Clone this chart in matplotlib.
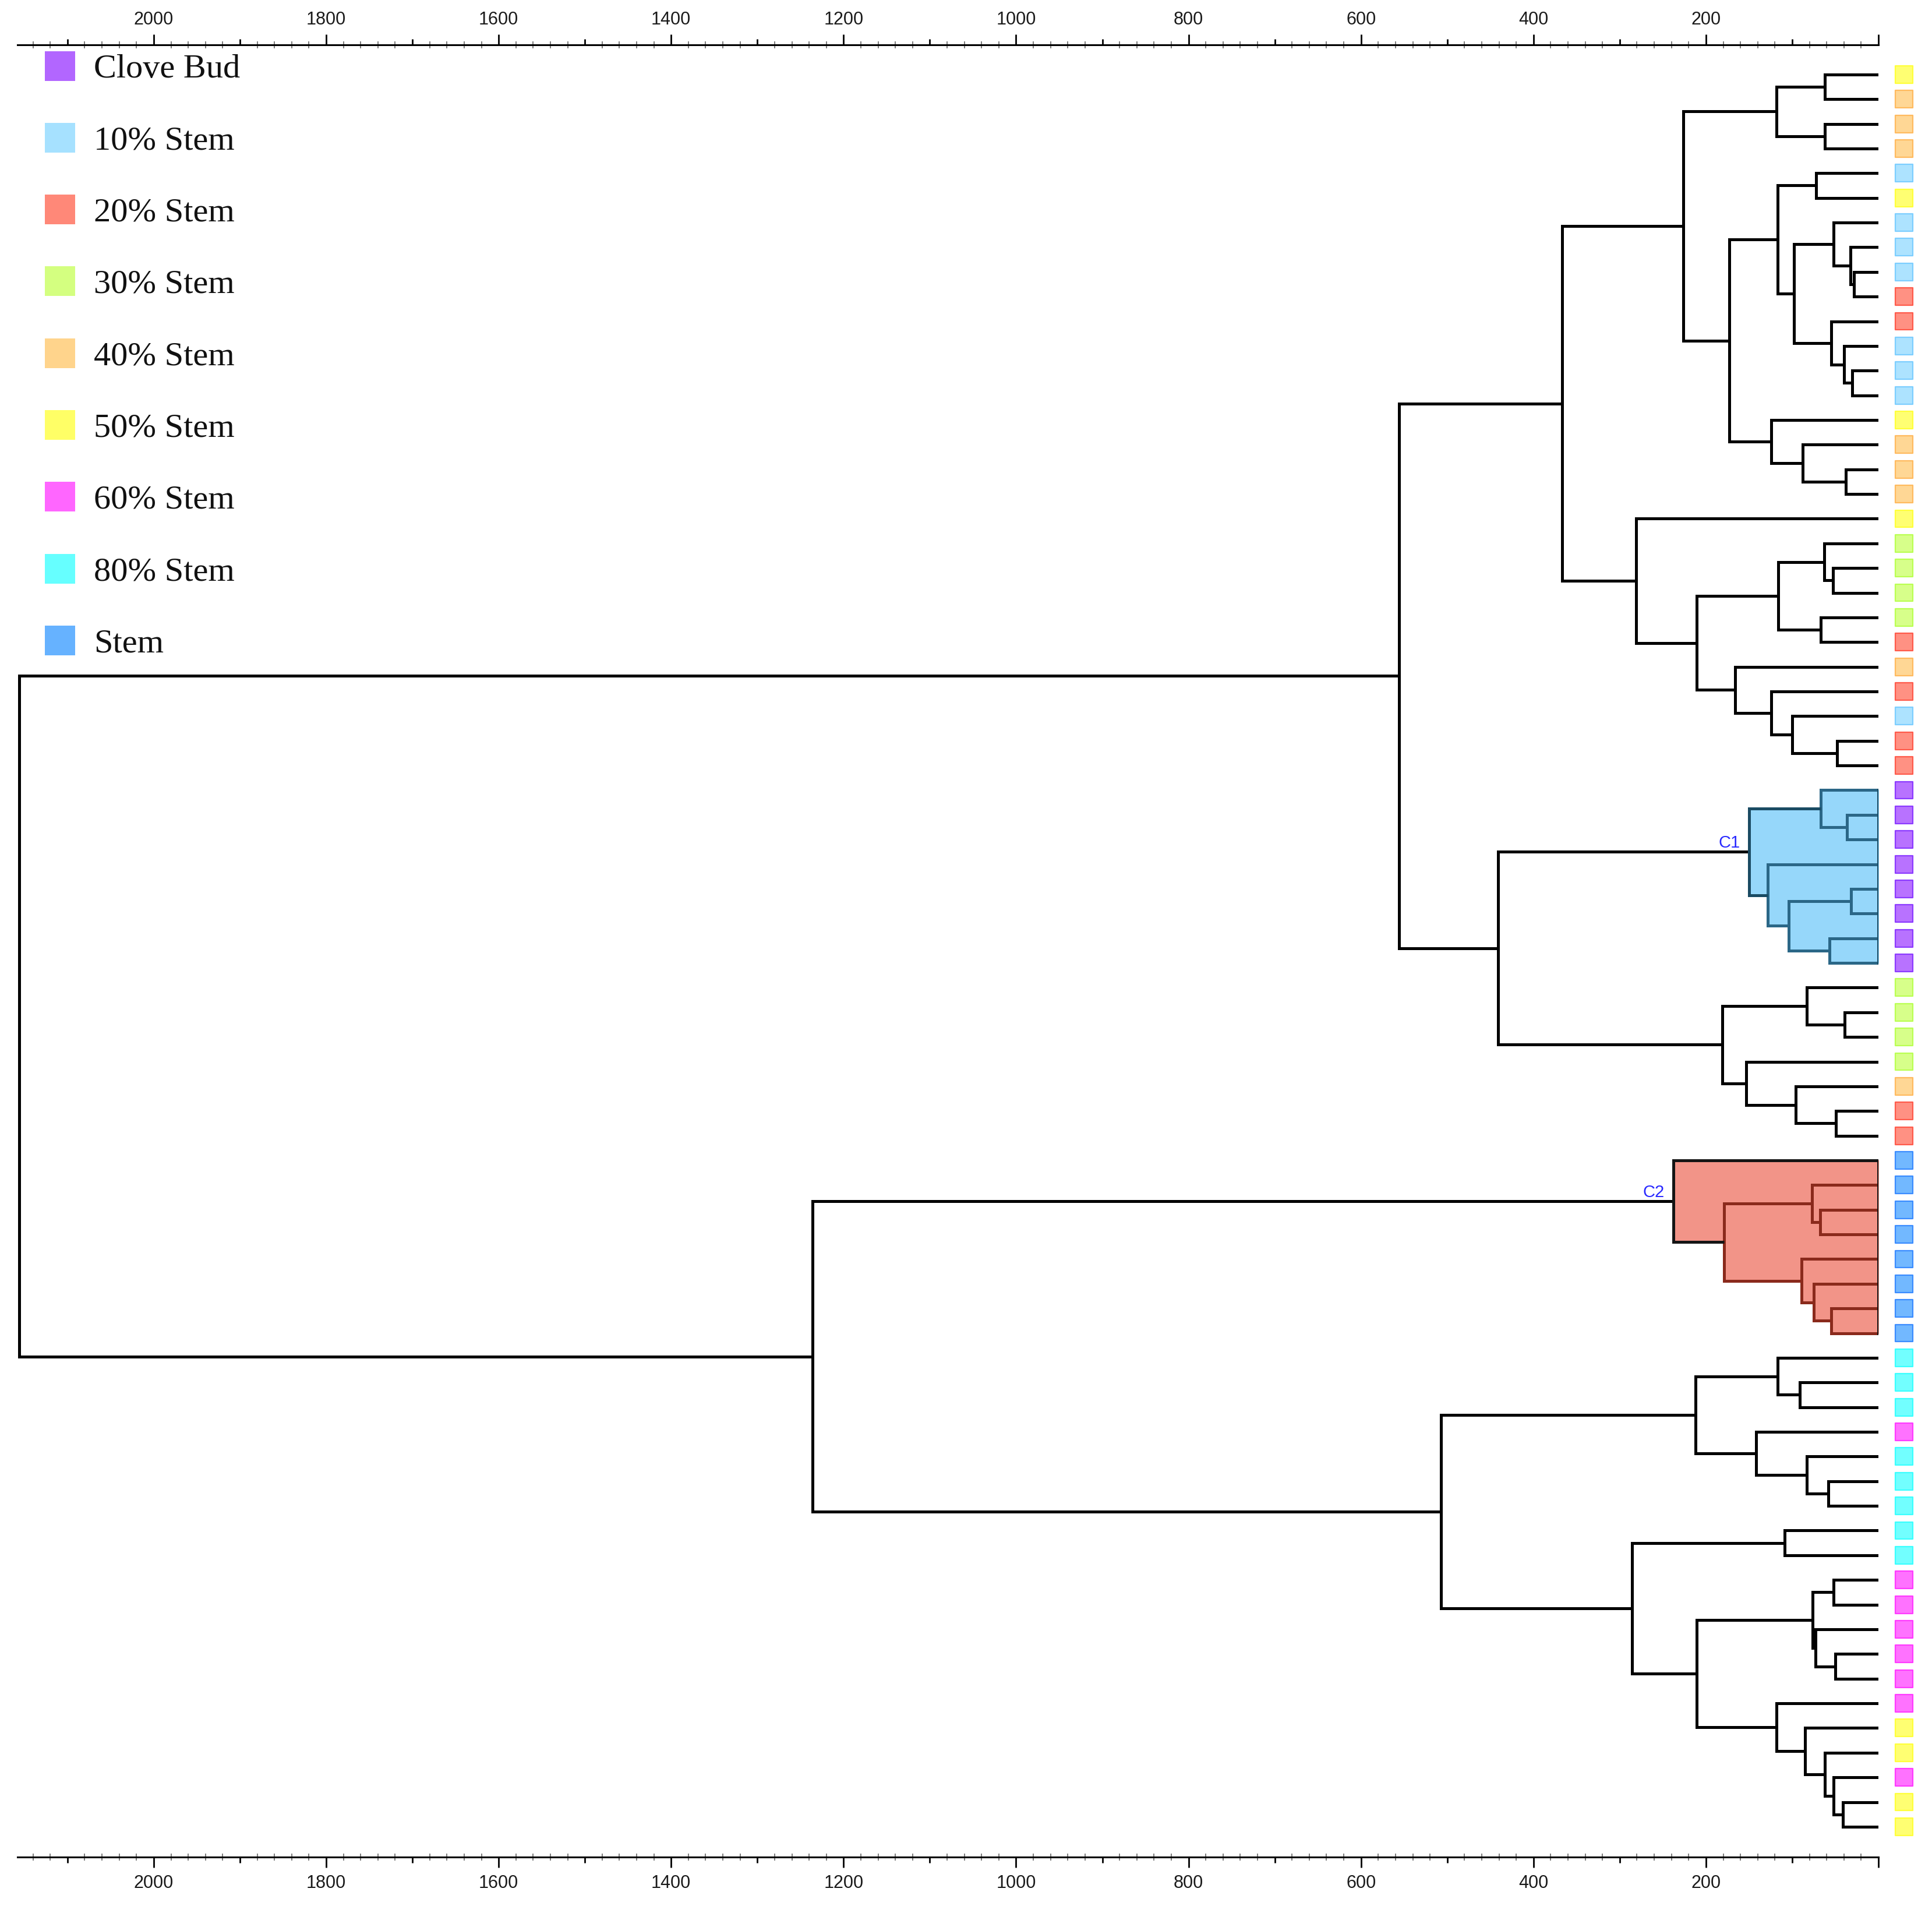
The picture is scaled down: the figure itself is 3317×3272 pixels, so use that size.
import numpy as np
import matplotlib
matplotlib.use('Agg')
import matplotlib.pyplot as plt
from matplotlib.ticker import FixedLocator, FuncFormatter
from matplotlib.colors import to_rgb

# ---------------- data ----------------
categories = ['Clove Bud', '10% Stem', '20% Stem', '30% Stem', '40% Stem',
              '50% Stem', '60% Stem', '80% Stem', 'Stem']
category_colors = ['#B266FF', '#A6E1FF', '#FF8878', '#D4FF80', '#FFD48C',
                   '#FFFF66', '#FF66FF', '#66FFFF', '#66B2FF']

leaf_classes = (
    ['50% Stem', '40% Stem', '40% Stem', '40% Stem', '10% Stem', '50% Stem',
     '10% Stem', '10% Stem', '10% Stem', '20% Stem', '20% Stem', '10% Stem',
     '10% Stem', '10% Stem', '50% Stem', '40% Stem', '40% Stem', '40% Stem',
     '50% Stem', '30% Stem', '30% Stem', '30% Stem', '30% Stem', '20% Stem',
     '40% Stem', '20% Stem', '10% Stem', '20% Stem', '20% Stem']
    + ['Clove Bud'] * 8
    + ['30% Stem'] * 4 + ['40% Stem', '20% Stem', '20% Stem']
    + ['Stem'] * 8
    + ['80% Stem'] * 3 + ['60% Stem'] + ['80% Stem'] * 5 + ['60% Stem'] * 6
    + ['50% Stem', '50% Stem', '60% Stem', '50% Stem', '50% Stem']
)

# linkage: node ids < 72 are leaves (top to bottom), 72 + k is merge k
merge_left = [0, 2, 72, 4, 8, 7, 6, 12, 11, 10, 78, 75, 16, 15, 14, 83, 74,
              20, 19, 22, 90, 27, 26, 25, 24, 92, 18, 88,
              30, 29, 33, 35, 102, 32, 101,
              38, 37, 42, 41, 40, 108, 106, 99,
              46, 45, 50, 49, 48, 116, 44,
              53, 52, 57, 56, 55, 123, 59, 61, 64, 63, 129, 70, 69, 68, 67, 66,
              132, 128, 127, 121, 114]
merge_right = [1, 3, 73, 5, 9, 76, 77, 13, 79, 80, 81, 82, 17, 84, 85, 86, 87,
               21, 89, 23, 91, 28, 93, 94, 95, 96, 97, 98,
               31, 100, 34, 36, 103, 104, 105,
               39, 107, 43, 109, 110, 111, 112, 113,
               47, 115, 51, 117, 118, 119, 120,
               54, 122, 58, 124, 125, 126, 60, 62, 65, 130, 131, 71, 133, 134,
               135, 136, 137, 138, 139, 140, 141]
merge_height = [62, 62, 118, 72, 28.5, 32.5, 52, 30.6, 40, 55, 98, 117, 37.5,
                88, 124, 173, 226,
                53, 63, 67, 116, 48, 100, 124, 166, 211, 281, 367,
                36.7, 67, 32, 56.5, 104, 128, 150,
                39, 83, 49, 96, 153, 181, 441, 556,
                67.6, 77, 55, 75, 89, 179, 238,
                91, 117, 58, 83, 142, 212, 109, 52, 50, 73, 76, 41, 52, 62, 85,
                118, 211, 286, 507, 1236, 2156]

highlight_names = ['C1', 'C2']
highlight_roots = [106, 121]
highlight_fill = ['#96D7FA', '#F29488']
highlight_inner = ['#2B6787', '#8A2A1C']
highlight_outer = ['#1A4B63', '#151515']

# ---------------- layout ----------------
W, H = 3317, 3273
fig = plt.figure(figsize=(W / 100, H / 100), dpi=100)
ax = fig.add_axes([30 / W, 1 - 3189 / H, (3225 - 30) / W, (3189 - 78) / H])

n = len(leaf_classes)
node_y = list(range(n))
node_h = [0.0] * n
for a, b, h in zip(merge_left, merge_right, merge_height):
    node_y.append((node_y[a] + node_y[b]) / 2.0)
    node_h.append(h)


def subtree_merges(node):
    if node < n:
        return []
    k = node - n
    return [k] + subtree_merges(merge_left[k]) + subtree_merges(merge_right[k])


def subtree_leaves(node):
    if node < n:
        return [node]
    k = node - n
    return subtree_leaves(merge_left[k]) + subtree_leaves(merge_right[k])


merge_color = ['black'] * len(merge_height)
LW = 3.6
for ci, root in enumerate(highlight_roots):
    ks = subtree_merges(root)
    for k in ks:
        a, b = merge_left[k], merge_right[k]
        ax.fill_betweenx([node_y[a], node_y[b]], 0, merge_height[k],
                         color=highlight_fill[ci], lw=1.0, zorder=2)
        merge_color[k] = highlight_inner[ci]
    merge_color[root - n] = highlight_outer[ci]
    leaves = subtree_leaves(root)
    ax.plot([0, 0], [min(leaves), max(leaves)], color=highlight_outer[ci],
            lw=LW, zorder=3.5, solid_capstyle='projecting')

for k, (a, b, h) in enumerate(zip(merge_left, merge_right, merge_height)):
    ax.plot([node_h[a], h, h, node_h[b]],
            [node_y[a], node_y[a], node_y[b], node_y[b]],
            color=merge_color[k], lw=LW, solid_joinstyle='miter',
            solid_capstyle='butt', zorder=3 if merge_color[k] == 'black' else 3.2)

# cluster labels
for ci, root in enumerate(highlight_roots):
    ax.annotate(highlight_names[ci], xy=(node_h[root], node_y[root]),
                xytext=(-11, 6), textcoords='offset points', ha='right',
                va='baseline', color='#2A2AFF', fontsize=21,
                family='Liberation Sans', zorder=5)

# leaf markers
cmap = dict(zip(categories, category_colors))
fills = [cmap[c] for c in leaf_classes]
edges = [tuple(np.array(to_rgb(c)) ** 1.8) for c in fills]
ax.scatter([-30] * n, list(range(n)), marker='s', s=21.5 ** 2, c=fills,
           edgecolors=edges, linewidths=1.6, alpha=0.92, clip_on=False, zorder=4)

# axes
ax.set_xlim(2158, 0)
ax.set_ylim(72.23, -1.2)
for s in ['left', 'right']:
    ax.spines[s].set_visible(False)
for s in ['top', 'bottom']:
    ax.spines[s].set_linewidth(2.2)
ax.set_yticks([])
major_locs = list(range(0, 2101, 100))
ax.xaxis.set_major_locator(FixedLocator(major_locs))
ax.xaxis.set_minor_locator(FixedLocator([v for v in range(0, 2158, 20) if v % 100]))
ax.xaxis.set_major_formatter(FuncFormatter(
    lambda v, p: '' if (int(round(v)) % 200 or int(round(v)) == 0) else str(int(round(v)))))
ax.tick_params(axis='x', which='major', top=True, bottom=True, labeltop=True,
               labelbottom=True, direction='out', length=13, width=2.0, pad=8,
               labelsize=22, labelcolor='#1a1a1a')
ax.tick_params(axis='x', which='minor', top=True, bottom=True, direction='inout',
               length=8, width=1.2, color='#666666')
for loc, tick in zip(major_locs, ax.xaxis.get_major_ticks()):
    tick.label1.set_fontfamily('Liberation Sans')
    tick.label2.set_fontfamily('Liberation Sans')
    if loc % 200:
        tick.tick1line.set_markersize(7)
        tick.tick2line.set_markersize(7)

# legend
for k, (name, col) in enumerate(zip(categories, category_colors)):
    cy = 114 + 123.3 * k
    fig.patches.append(plt.Rectangle((77 / W, 1 - (cy + 25.5) / H), 52 / W, 51 / H,
                                     transform=fig.transFigure, facecolor=col,
                                     edgecolor='none', zorder=5))
    fig.text(161 / W, 1 - (cy + 19) / H, name, fontsize=42,
             family='Liberation Serif', va='baseline', ha='left', color='#111111')

fig.savefig('out.png', dpi=100, facecolor='white')
